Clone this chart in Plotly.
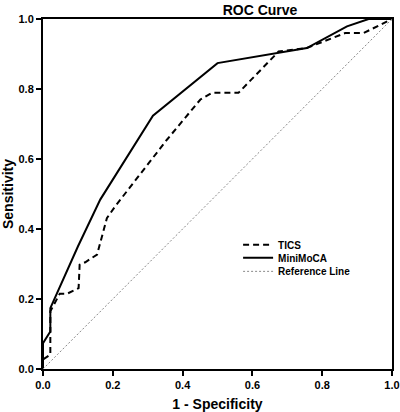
import plotly.graph_objects as go

# MiniMoCA ROC points (1 - specificity, sensitivity)
mini_x = [0.0, 0.0, 0.021, 0.021, 0.10, 0.164, 0.315, 0.50, 0.756, 0.871, 0.933, 1.0]
mini_y = [0.0, 0.074, 0.107, 0.174, 0.35, 0.484, 0.724, 0.874, 0.917, 0.979, 1.0, 1.0]

# TICS ROC points
tics_x = [0.0, 0.0, 0.021, 0.021, 0.048, 0.069, 0.102, 0.105, 0.121, 0.155, 0.183, 0.207,
          0.355, 0.451, 0.484, 0.56, 0.675, 0.756, 0.866, 0.919, 1.0]
tics_y = [0.0, 0.027, 0.041, 0.165, 0.215, 0.215, 0.231, 0.298, 0.305, 0.327, 0.431, 0.465,
          0.655, 0.77, 0.789, 0.789, 0.907, 0.917, 0.96, 0.96, 1.0]

ref_x = [0.0, 1.0]
ref_y = [0.0, 1.0]

tick_vals = [0.0, 0.2, 0.4, 0.6, 0.8, 1.0]

FONT = "Liberation Sans, Arial, sans-serif"

fig = go.Figure()
fig.add_trace(go.Scatter(x=tics_x, y=tics_y, mode="lines", name="TICS", legend="legend",
                         line=dict(color="black", width=2, dash="6px,4px")))
fig.add_trace(go.Scatter(x=mini_x, y=mini_y, mode="lines", name="MiniMoCA", legend="legend2",
                         line=dict(color="black", width=2)))
fig.add_trace(go.Scatter(x=ref_x, y=ref_y, mode="lines", name="Reference Line", legend="legend3",
                         line=dict(color="#888888", width=1, dash="2px,2px")))

axis_common = dict(
    range=[0, 1], tickvals=tick_vals, tickformat=".1f",
    showgrid=False, zeroline=False, automargin=False,
    showline=True, linecolor="black", linewidth=2, mirror=True,
    ticks="outside", ticklen=5, tickwidth=2, tickcolor="black",
    tickfont=dict(family=FONT, size=11, color="black", weight="bold"),
)

legend_common = dict(xanchor="left", yanchor="middle", bgcolor="rgba(0,0,0,0)",
                     itemwidth=30, borderwidth=0,
                     font=dict(family=FONT, size=10, color="black", weight="bold"))

fig.update_layout(
    width=400, height=412,
    margin=dict(l=43, r=8, t=19, b=43),
    paper_bgcolor="white", plot_bgcolor="white",
    title=dict(text="ROC Curve", x=0.65, xanchor="center", y=0.988, yanchor="top",
               font=dict(family=FONT, size=14, color="black", weight="bold")),
    xaxis=dict(**axis_common,
               title=dict(text="1 - Specificity", standoff=14,
                          font=dict(family=FONT, size=14, color="black", weight="bold"))),
    yaxis=dict(**axis_common,
               title=dict(text="Sensitivity", standoff=6,
                          font=dict(family=FONT, size=14, color="black", weight="bold"))),
    legend=dict(**legend_common, x=0.559, y=0.355),
    legend2=dict(**legend_common, x=0.559, y=0.318),
    legend3=dict(**legend_common, x=0.559, y=0.279),
    showlegend=True,
)

fig.write_html("out.html")
